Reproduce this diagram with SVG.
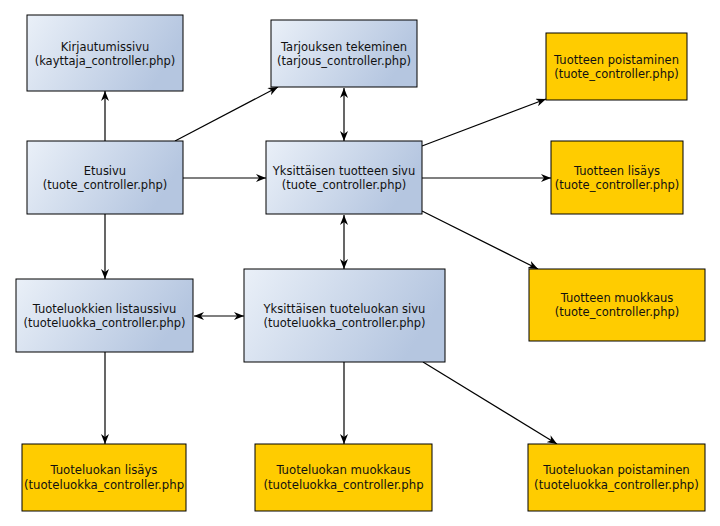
<svg xmlns="http://www.w3.org/2000/svg" width="720" height="526" viewBox="0 0 720 526">
<defs>
<linearGradient id="blue" x1="0" y1="0" x2="1" y2="0.3">
<stop offset="0" stop-color="#eaf0f8"/>
<stop offset="1" stop-color="#b5c6e0"/>
</linearGradient>
<marker id="ah" viewBox="0 0 10 8" refX="10" refY="4" markerWidth="10" markerHeight="8" markerUnits="userSpaceOnUse" orient="auto-start-reverse">
<path d="M0,0 L10,4 L0,8 L3,4 z" fill="#000"/>
</marker>
<style>
.b{fill:url(#blue);stroke:#000;stroke-width:1}
.o{fill:#ffcc00;stroke:#000;stroke-width:1}
text{font-family:"DejaVu Sans",sans-serif;font-size:11.5px;fill:#111;text-anchor:middle}
.c{font-family:"DejaVu Sans Condensed","DejaVu Sans",sans-serif;font-size:13px}
.e{fill:none;stroke:#000;stroke-width:1.2;marker-end:url(#ah)}
.d{fill:none;stroke:#000;stroke-width:1.2;marker-end:url(#ah);marker-start:url(#ah)}
</style>
</defs>
<rect width="720" height="526" fill="#fff"/>
<g id="connectors">
<line class="e" x1="105" y1="141" x2="105" y2="91"/>
<line class="e" x1="175" y1="141" x2="278" y2="87"/>
<line class="d" x1="344" y1="88" x2="344" y2="141"/>
<line class="e" x1="183" y1="178" x2="266" y2="178"/>
<line class="e" x1="422" y1="146" x2="546" y2="99"/>
<line class="e" x1="422" y1="178" x2="551" y2="178"/>
<line class="e" x1="422" y1="211" x2="538" y2="269"/>
<line class="d" x1="344" y1="215" x2="344" y2="269"/>
<line class="e" x1="105" y1="214" x2="105" y2="279"/>
<line class="d" x1="194" y1="316" x2="244" y2="316"/>
<line class="e" x1="105" y1="352" x2="105" y2="444"/>
<line class="e" x1="344" y1="362" x2="344" y2="444"/>
<line class="e" x1="423" y1="362" x2="557" y2="444"/>
</g>
<g id="kirjautumissivu"><rect class="b" x="27" y="15" width="156" height="76"/><text x="105" y="51">Kirjautumissivu</text><text x="105" y="65">(kayttaja_controller.php)</text></g>
<g id="etusivu"><rect class="b" x="27" y="141" width="156" height="73"/><text x="105" y="175">Etusivu</text><text x="105" y="189">(tuote_controller.php)</text></g>
<g id="tarjouksen-tekeminen"><rect class="b" x="271" y="20" width="146" height="67"/><text x="344" y="51">Tarjouksen tekeminen</text><text x="344" y="65">(tarjous_controller.php)</text></g>
<g id="yksittaisen-tuotteen-sivu"><rect class="b" x="266" y="141" width="156" height="73"/><text x="344" y="175">Yksittäisen tuotteen sivu</text><text x="344" y="189">(tuote_controller.php)</text></g>
<g id="tuotteen-poistaminen"><rect class="o" x="546" y="33" width="141" height="67"/><text x="616.5" y="64">Tuotteen poistaminen</text><text x="616.5" y="78">(tuote_controller.php)</text></g>
<g id="tuotteen-lisays"><rect class="o" x="551" y="141" width="132" height="73"/><text x="617" y="175">Tuotteen lisäys</text><text x="617" y="189">(tuote_controller.php)</text></g>
<g id="tuotteen-muokkaus"><rect class="o" x="529" y="269" width="176" height="72"/><text x="617" y="302">Tuotteen muokkaus</text><text x="617" y="316">(tuote_controller.php)</text></g>
<g id="tuoteluokkien-listaussivu"><rect class="b" x="16" y="279" width="177" height="73"/><text x="104.5" y="313">Tuoteluokkien listaussivu</text><text x="104.5" y="327">(tuoteluokka_controller.php)</text></g>
<g id="yksittaisen-tuoteluokan-sivu"><rect class="b" x="244" y="269" width="201" height="93"/><text x="344.5" y="313">Yksittäisen tuoteluokan sivu</text><text x="344.5" y="327">(tuoteluokka_controller.php)</text></g>
<g id="tuoteluokan-lisays"><rect class="o" x="22" y="444" width="164" height="67"/><text class="c" x="104" y="474">Tuoteluokan lisäys</text><text class="c" x="104" y="489">(tuoteluokka_controller.php</text></g>
<g id="tuoteluokan-muokkaus"><rect class="o" x="255" y="444" width="177" height="67"/><text class="c" x="343.5" y="474">Tuoteluokan muokkaus</text><text class="c" x="343.5" y="489">(tuoteluokka_controller.php</text></g>
<g id="tuoteluokan-poistaminen"><rect class="o" x="528" y="444" width="177" height="67"/><text class="c" x="616.5" y="474">Tuoteluokan poistaminen</text><text class="c" x="616.5" y="489">(tuoteluokka_controller.php)</text></g>
</svg>
